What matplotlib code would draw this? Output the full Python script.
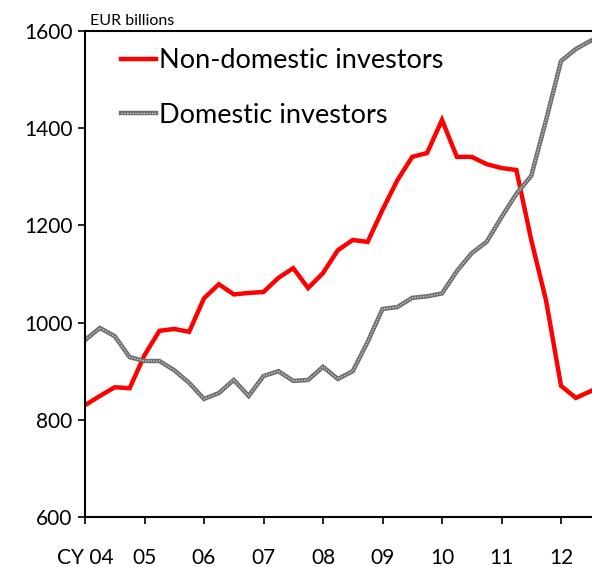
import matplotlib
matplotlib.use("Agg")
import matplotlib.pyplot as plt
from matplotlib.legend_handler import HandlerTuple
import numpy as np

# quarterly, from 2004 Q1 to 2012 Q3 (EUR billions)
non_domestic = [830, 849, 867, 865, 933, 983, 987, 981,
                1050, 1079, 1058, 1061, 1063, 1092, 1112, 1071,
                1102, 1149, 1170, 1166, 1232, 1293, 1341, 1349,
                1417, 1341, 1341, 1326, 1318, 1314, 1170, 1045,
                870, 845, 859]
domestic = [964, 989, 972, 929, 921, 921, 902, 876,
            843, 855, 882, 849, 890, 900, 880, 882,
            909, 884, 900, 960, 1028, 1032, 1051, 1054,
            1060, 1106, 1143, 1166, 1217, 1265, 1302, 1417,
            1538, 1563, 1580]
year_labels = ["CY 04", "05", "06", "07", "08", "09", "10", "11", "12"]

plt.rcParams['font.family'] = ['Lato', 'DejaVu Sans']

t = 4 + np.arange(len(non_domestic)) / 4.0

fig = plt.figure(figsize=(5.92, 5.67), dpi=100)
ax = fig.add_axes([85 / 592, 50 / 567, 507 / 592, 486 / 567])

red, = ax.plot(t, non_domestic, color='#ff0000', lw=3.2, solid_joinstyle='miter')
g1, = ax.plot(t, domestic, color='#6e6e6e', lw=3.2, solid_joinstyle='miter')
g2, = ax.plot(t, domestic, color='#c8c8c8', lw=1.0, linestyle=(0, (1, 1)))

ax.set_xlim(4, 4 + 507 / 59.5)
ax.set_ylim(600, 1600)
ax.set_yticks(range(600, 1601, 200))
ax.set_xticks(range(4, 13))
ax.set_xticklabels(year_labels)
ax.tick_params(axis='both', direction='out', length=5, width=1.2, labelsize=15)
ax.tick_params(axis='x', pad=17)
ax.tick_params(axis='y', pad=4)

for s in ['left', 'top', 'bottom']:
    ax.spines[s].set_linewidth(1.5)
ax.spines['right'].set_visible(False)

ax.text(0.01, 1.006, 'EUR billions', transform=ax.transAxes, fontsize=11.5,
        ha='left', va='bottom')

ax.legend([red, (g1, g2)], ['Non-domestic investors', 'Domestic investors'],
          handler_map={tuple: HandlerTuple(ndivide=1, pad=0)},
          loc='upper left', bbox_to_anchor=(0.05, 0.987), frameon=False,
          fontsize=19.5, handlelength=1.3, handletextpad=0.1, labelspacing=1.1,
          borderaxespad=0)

fig.savefig('out.png', dpi=100)
